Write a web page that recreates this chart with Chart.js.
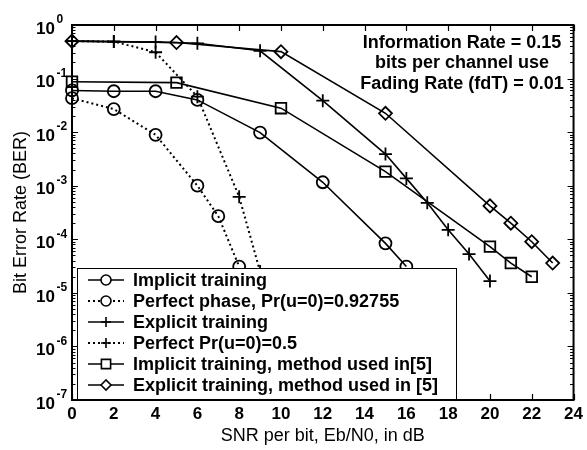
<!DOCTYPE html>
<html>
<head>
<meta charset="utf-8">
<script src="https://cdn.jsdelivr.net/npm/chart.js@4.4.0/dist/chart.umd.min.js"></script>
<style>
html, body { margin: 0; padding: 0; background: #fff; }
#wrap { width: 587px; height: 450px; }
</style>
</head>
<body>
<div id="wrap"><canvas id="berChart" width="587" height="450"></canvas></div>
<script>
// Axis ranges / ticks
const xMin = 0, xMax = 24, xStep = 2;
const yDecades = [-7, -6, -5, -4, -3, -2, -1, 0];

// BER curves
const snrImplicit = [0, 2, 4, 6, 9, 12, 15, 16];
const berImplicit = [0.06, 0.058, 0.058, 0.040, 0.0098, 0.00116, 8.4e-5, 3.1e-5];

const snrPerfectPhase = [0, 2, 4, 6, 7, 8];
const berPerfectPhase = [0.043, 0.027, 0.0089, 0.001, 2.7e-4, 3.1e-5];

const snrExplicit = [0, 2, 4, 6, 9, 12, 15, 16, 17, 18, 19, 20];
const berExplicit = [0.5, 0.49, 0.48, 0.455, 0.33, 0.0386, 0.0039, 0.00137, 4.8e-4, 1.5e-4, 5.3e-5, 1.66e-5];

const snrPerfectPr = [0, 2, 4, 6, 8, 9];
const berPerfectPr = [0.5, 0.49, 0.31, 0.046, 6.2e-4, 2.5e-5];

const snrImplicit5 = [0, 5, 10, 15, 20, 21, 22];
const berImplicit5 = [0.0875, 0.084, 0.028, 0.00183, 7.3e-5, 3.6e-5, 2.0e-5];

const snrExplicit5 = [0, 5, 10, 15, 20, 21, 22, 23];
const berExplicit5 = [0.5, 0.47, 0.318, 0.0225, 4.2e-4, 2.0e-4, 9.0e-5, 3.6e-5];

const noteLines = ['Information Rate = 0.15', 'bits per channel use', 'Fading Rate (fdT) = 0.01'];

const FONT = '"Liberation Sans", Arial, Helvetica, sans-serif';

const pts = (xs, ys) => xs.map((x, i) => ({ x: x, y: ys[i] }));

function series(label, xs, ys, style, radius, dotted) {
    return {
        label: label,
        data: pts(xs, ys),
        borderColor: '#000',
        backgroundColor: '#000',
        borderWidth: dotted ? 2 : 1.6,
        borderDash: dotted ? [2, 3] : [],
        pointStyle: style,
        pointRadius: radius,
        pointBorderWidth: 1.8,
        pointBorderColor: '#000',
        pointBackgroundColor: 'rgba(0,0,0,0)',
        tension: 0,
        clip: false,
        legendRadius: style === 'rect' ? 6.5 : 5,
    };
}

const datasets = [
    series('Implicit training', snrImplicit, berImplicit, 'circle', 6, false),
    series('Perfect phase, Pr(u=0)=0.92755', snrPerfectPhase, berPerfectPhase, 'circle', 6, true),
    series('Explicit training', snrExplicit, berExplicit, 'cross', 6.5, false),
    series('Perfect Pr(u=0)=0.5', snrPerfectPr, berPerfectPr, 'cross', 6.5, true),
    series('Implicit training, method used in[5]', snrImplicit5, berImplicit5, 'rect', 7.5, false),
    series('Explicit training, method used in [5]', snrExplicit5, berExplicit5, 'rectRot', 6.5, false),
];

// box + inward ticks, matlab style
const frame = {
    id: 'frame',
    beforeDatasetsDraw(chart) {
        const { ctx, chartArea: a, scales } = chart;
        const xs = scales.x, ys = scales.y;
        ctx.save();
        ctx.strokeStyle = '#000';
        ctx.lineWidth = 1.2;
        ctx.beginPath();
        xs.ticks.forEach(t => {
            const px = Math.round(xs.getPixelForValue(t.value)) + 0.5;
            ctx.moveTo(px, a.bottom); ctx.lineTo(px, a.bottom - 6);
            ctx.moveTo(px, a.top); ctx.lineTo(px, a.top + 6);
        });
        yDecades.forEach(e => {
            for (let m = 1; m <= 9; m++) {
                const v = m * Math.pow(10, e);
                if (v > 1.0001) break;
                const py = Math.round(ys.getPixelForValue(v)) + 0.5;
                const len = m === 1 ? 6 : 3.5;
                ctx.moveTo(a.left, py); ctx.lineTo(a.left + len, py);
                ctx.moveTo(a.right, py); ctx.lineTo(a.right - len, py);
                if (e === 0) break;
            }
        });
        ctx.stroke();
        ctx.lineWidth = 2;
        ctx.strokeRect(a.left, a.top, a.right - a.left, a.bottom - a.top);
        ctx.restore();
    },
    afterDraw(chart) {
        const { ctx, scales } = chart;
        const ys = scales.y;
        ctx.save();
        ctx.fillStyle = '#000';
        ctx.textBaseline = 'middle';
        yDecades.forEach(e => {
            const py = ys.getPixelForValue(Math.pow(10, e));
            ctx.font = 'bold 17px ' + FONT;
            ctx.textAlign = 'right';
            ctx.fillText('10', 55, py + 4);
            ctx.font = 'bold 12px ' + FONT;
            ctx.textAlign = 'left';
            ctx.fillText(e === 0 ? '0' : '-' + (-e), 56.5, py - 5);
        });
        // annotation, top right
        ctx.font = 'bold 18px ' + FONT;
        ctx.textAlign = 'center';
        noteLines.forEach((s, i) => ctx.fillText(s, 462, 43 + i * 20.3));
        ctx.restore();
    }
};

// legend box drawn over the curves (lower left)
const legendBox = {
    id: 'legendBox',
    afterDatasetsDraw(chart) {
        const { ctx } = chart;
        const bx = 77, by = 268, bw = 379, bh = 131;
        ctx.save();
        ctx.fillStyle = '#fff';
        ctx.fillRect(bx, by, bw, bh);
        ctx.strokeStyle = '#000';
        ctx.lineWidth = 1;
        ctx.strokeRect(bx + 0.5, by + 0.5, bw, bh);
        chart.data.datasets.forEach((ds, i) => {
            const y = 280 + i * 21;
            ctx.strokeStyle = '#000';
            ctx.lineWidth = ds.borderWidth;
            ctx.setLineDash(ds.borderDash);
            ctx.beginPath();
            ctx.moveTo(88, y); ctx.lineTo(124, y);
            ctx.stroke();
            ctx.setLineDash([]);
            ctx.lineWidth = 1.6;
            ctx.fillStyle = '#fff';
            Chart.helpers.drawPoint(ctx, { pointStyle: ds.pointStyle, radius: ds.legendRadius, rotation: 0, borderWidth: 1.6 }, 106, y);
            ctx.fillStyle = '#000';
            ctx.font = 'bold 18px ' + FONT;
            ctx.textAlign = 'left';
            ctx.textBaseline = 'middle';
            ctx.fillText(ds.label, 133, y + 1);
        });
        ctx.restore();
    }
};

new Chart(document.getElementById('berChart'), {
    type: 'line',
    data: { datasets: datasets },
    options: {
        responsive: false,
        animation: false,
        layout: { padding: { top: 25, right: 11, left: 0, bottom: 0 } },
        plugins: { legend: { display: false }, tooltip: { enabled: false } },
        scales: {
            x: {
                type: 'linear', min: xMin, max: xMax,
                grid: { display: false, drawTicks: false },
                border: { display: false },
                ticks: { stepSize: xStep, color: '#000', font: { family: FONT, size: 17, weight: 'bold' }, padding: 4, maxRotation: 0 },
                title: { display: true, text: 'SNR per bit, Eb/N0, in dB', color: '#000', font: { family: FONT, size: 18 }, padding: { top: 0, bottom: 3 } },
                afterFit(scale) { scale.height = 50; },
            },
            y: {
                type: 'logarithmic', min: 1e-7, max: 1,
                grid: { display: false, drawTicks: false },
                border: { display: false },
                ticks: { display: false },
                title: { display: true, text: 'Bit Error Rate (BER)', color: '#000', font: { family: FONT, size: 18 }, padding: { top: 10, bottom: 0 } },
                afterFit(scale) { scale.width = 72; },
            },
        },
    },
    plugins: [frame, legendBox],
});
</script>
</body>
</html>
